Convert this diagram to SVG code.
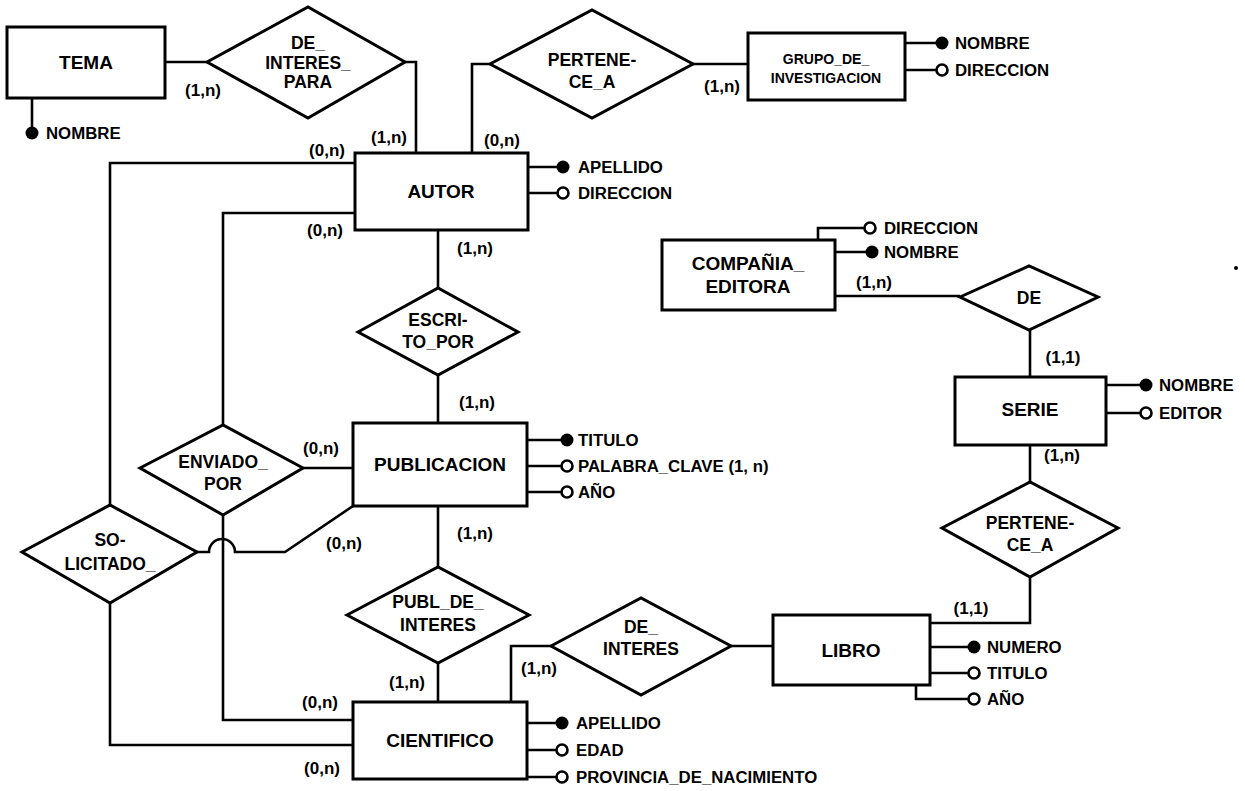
<svg xmlns="http://www.w3.org/2000/svg" width="1245" height="791" viewBox="0 0 1245 791">
<style>
.ent{fill:#fff;stroke:#000;stroke-width:3}
.rel{fill:#fff;stroke:#000;stroke-width:3;stroke-linejoin:miter}
.ln{fill:none;stroke:#000;stroke-width:2.6}
.key{fill:#000}
.opt{fill:#fff;stroke:#000;stroke-width:2.6}
text{font-family:"Liberation Sans",Arial,sans-serif;font-weight:bold;fill:#000}
.te{font-size:19px;text-anchor:middle}
.tg{font-size:14px;text-anchor:middle}
.tr{font-size:17.5px;text-anchor:middle}
.ta{font-size:16.8px}
.tc{font-size:17px;text-anchor:middle}
</style>
<rect width="1245" height="791" fill="#fff"/>

<g id="connectors">
  <path class="ln" d="M165,62 L207,62"/>
  <path class="ln" d="M405,62 L416,62 L416,153"/>
  <path class="ln" d="M472,153 L472,64 L490,64"/>
  <path class="ln" d="M693,64 L748,64"/>
  <path class="ln" d="M355,163 L110,163 L110,505"/>
  <path class="ln" d="M355,213 L223,213 L223,425"/>
  <path class="ln" d="M438,230 L438,288"/>
  <path class="ln" d="M438,375 L438,423"/>
  <path class="ln" d="M303,468 L353,468"/>
  <path class="ln" d="M223,515 L223,720 L353,720"/>
  <path class="ln" d="M197,552 L209,552 A13,13 0 0 1 235,552 L285,552 L353,506"/>
  <path class="ln" d="M110,603 L110,745 L353,745"/>
  <path class="ln" d="M438,506 L438,567"/>
  <path class="ln" d="M438,663 L438,702"/>
  <path class="ln" d="M511,702 L511,646 L551,646"/>
  <path class="ln" d="M731,646 L773,646"/>
  <path class="ln" d="M930,623 L1030,623 L1030,577"/>
  <path class="ln" d="M1030,482 L1030,445"/>
  <path class="ln" d="M1030,377 L1030,330"/>
  <path class="ln" d="M960,296 L835,296"/>
  <text class="tc" x="203" y="96">(1,n)</text>
  <text class="tc" x="389" y="143">(1,n)</text>
  <text class="tc" x="327" y="156">(0,n)</text>
  <text class="tc" x="502" y="146">(0,n)</text>
  <text class="tc" x="722" y="92">(1,n)</text>
  <text class="tc" x="325" y="236">(0,n)</text>
  <text class="tc" x="475" y="254">(1,n)</text>
  <text class="tc" x="477" y="408">(1,n)</text>
  <text class="tc" x="321" y="454">(0,n)</text>
  <text class="tc" x="344" y="549">(0,n)</text>
  <text class="tc" x="475" y="539">(1,n)</text>
  <text class="tc" x="407" y="688">(1,n)</text>
  <text class="tc" x="320" y="708">(0,n)</text>
  <text class="tc" x="322" y="774">(0,n)</text>
  <text class="tc" x="539" y="674">(1,n)</text>
  <text class="tc" x="874" y="288">(1,n)</text>
  <text class="tc" x="1063" y="363">(1,1)</text>
  <text class="tc" x="1062" y="461">(1,n)</text>
  <text class="tc" x="971" y="614">(1,1)</text>
</g>

<g id="TEMA">
  <path class="ln" d="M32,98 L32,133"/>
  <circle class="key" cx="32" cy="133" r="6.5"/>
  <text class="ta" x="46" y="139">NOMBRE</text>
  <rect class="ent" x="7" y="27" width="158" height="71"/>
  <text class="te" x="86" y="69">TEMA</text>
</g>

<g id="DE_INTERES_PARA">
  <polygon class="rel" points="207,62 308,7 405,62 308,118"/>
  <text class="tr" x="308" y="49">DE_</text>
  <text class="tr" x="308" y="69">INTERES_</text>
  <text class="tr" x="308" y="88">PARA</text>
</g>

<g id="PERTENECE_A_1">
  <polygon class="rel" points="490,64 592,10 693,64 592,118"/>
  <text class="tr" x="592" y="66">PERTENE-</text>
  <text class="tr" x="592" y="88">CE_A</text>
</g>

<g id="GRUPO_DE_INVESTIGACION">
  <path class="ln" d="M905,43 L942,43 M905,70 L936,70"/>
  <circle class="key" cx="942" cy="43" r="6.5"/>
  <circle class="opt" cx="942" cy="70" r="5.5"/>
  <text class="ta" x="955" y="49">NOMBRE</text>
  <text class="ta" x="955" y="76">DIRECCION</text>
  <rect class="ent" x="748" y="33" width="157" height="67"/>
  <text class="tg" x="826" y="64">GRUPO_DE_</text>
  <text class="tg" x="826" y="83">INVESTIGACION</text>
</g>

<g id="AUTOR">
  <path class="ln" d="M528,167 L563,167 M528,193 L557,193"/>
  <circle class="key" cx="563" cy="167" r="6.5"/>
  <circle class="opt" cx="563" cy="193" r="5.5"/>
  <text class="ta" x="578" y="173">APELLIDO</text>
  <text class="ta" x="578" y="199">DIRECCION</text>
  <rect class="ent" x="355" y="153" width="173" height="77"/>
  <text class="te" x="441" y="198">AUTOR</text>
</g>

<g id="ESCRITO_POR">
  <polygon class="rel" points="358,332 438,288 518,332 438,375"/>
  <text class="tr" x="438" y="326">ESCRI-</text>
  <text class="tr" x="438" y="348">TO_POR</text>
</g>

<g id="ENVIADO_POR">
  <polygon class="rel" points="140,468 223,425 303,468 223,515"/>
  <text class="tr" x="223" y="468">ENVIADO_</text>
  <text class="tr" x="223" y="490">POR</text>
</g>

<g id="SOLICITADO">
  <polygon class="rel" points="22,552 110,505 197,552 110,603"/>
  <text class="tr" x="110" y="546">SO-</text>
  <text class="tr" x="110" y="570">LICITADO_</text>
</g>

<g id="PUBLICACION">
  <path class="ln" d="M527,440 L567,440 M527,466 L561,466 M527,492 L561,492"/>
  <circle class="key" cx="567" cy="440" r="6.5"/>
  <circle class="opt" cx="567" cy="466" r="5.5"/>
  <circle class="opt" cx="567" cy="492" r="5.5"/>
  <text class="ta" x="578" y="446">TITULO</text>
  <text class="ta" x="578" y="472">PALABRA_CLAVE (1, n)</text>
  <text class="ta" x="578" y="498">AÑO</text>
  <rect class="ent" x="353" y="423" width="174" height="83"/>
  <text class="te" x="440" y="471">PUBLICACION</text>
</g>

<g id="PUBL_DE_INTERES">
  <polygon class="rel" points="347,615 438,567 529,615 438,663"/>
  <text class="tr" x="438" y="608">PUBL_DE_</text>
  <text class="tr" x="438" y="631">INTERES</text>
</g>

<g id="CIENTIFICO">
  <path class="ln" d="M527,723 L562,723 M527,750 L556,750 M527,777 L556,777"/>
  <circle class="key" cx="562" cy="723" r="6.5"/>
  <circle class="opt" cx="562" cy="750" r="5.5"/>
  <circle class="opt" cx="562" cy="777" r="5.5"/>
  <text class="ta" x="576" y="729">APELLIDO</text>
  <text class="ta" x="576" y="756">EDAD</text>
  <text class="ta" x="576" y="783">PROVINCIA_DE_NACIMIENTO</text>
  <rect class="ent" x="353" y="702" width="174" height="77"/>
  <text class="te" x="440" y="747">CIENTIFICO</text>
</g>

<g id="DE_INTERES">
  <polygon class="rel" points="551,646 641,598 731,646 641,695"/>
  <text class="tr" x="641" y="633">DE_</text>
  <text class="tr" x="641" y="655">INTERES</text>
</g>

<g id="LIBRO">
  <path class="ln" d="M930,647 L974,647 M930,673 L968,673 M916,685 L916,699 L968,699"/>
  <circle class="key" cx="974" cy="647" r="6.5"/>
  <circle class="opt" cx="974" cy="673" r="5.5"/>
  <circle class="opt" cx="974" cy="699" r="5.5"/>
  <text class="ta" x="987" y="653">NUMERO</text>
  <text class="ta" x="987" y="679">TITULO</text>
  <text class="ta" x="987" y="705">AÑO</text>
  <rect class="ent" x="773" y="615" width="157" height="70"/>
  <text class="te" x="851" y="657">LIBRO</text>
</g>

<g id="PERTENECE_A_2">
  <polygon class="rel" points="942,528 1030,482 1118,528 1030,577"/>
  <text class="tr" x="1030" y="529">PERTENE-</text>
  <text class="tr" x="1030" y="551">CE_A</text>
</g>

<g id="SERIE">
  <path class="ln" d="M1106,385 L1146,385 M1106,413 L1140,413"/>
  <circle class="key" cx="1146" cy="385" r="6.5"/>
  <circle class="opt" cx="1146" cy="413" r="5.5"/>
  <text class="ta" x="1159" y="391">NOMBRE</text>
  <text class="ta" x="1159" y="419">EDITOR</text>
  <rect class="ent" x="955" y="377" width="151" height="68"/>
  <text class="te" x="1030" y="416">SERIE</text>
</g>

<g id="DE">
  <polygon class="rel" points="960,297 1029,266 1098,297 1029,330"/>
  <text class="tr" x="1029" y="304">DE</text>
</g>

<g id="COMPANIA_EDITORA">
  <path class="ln" d="M818,240 L818,228 L864,228 M835,252 L872,252"/>
  <circle class="opt" cx="870" cy="228" r="5.5"/>
  <circle class="key" cx="872" cy="252" r="6.5"/>
  <text class="ta" x="884" y="234">DIRECCION</text>
  <text class="ta" x="884" y="258">NOMBRE</text>
  <rect class="ent" x="662" y="240" width="173" height="70"/>
  <text class="te" x="748" y="270">COMPAÑIA_</text>
  <text class="te" x="748" y="293">EDITORA</text>
</g>

<circle cx="1236" cy="268" r="2" fill="#000"/>
</svg>
